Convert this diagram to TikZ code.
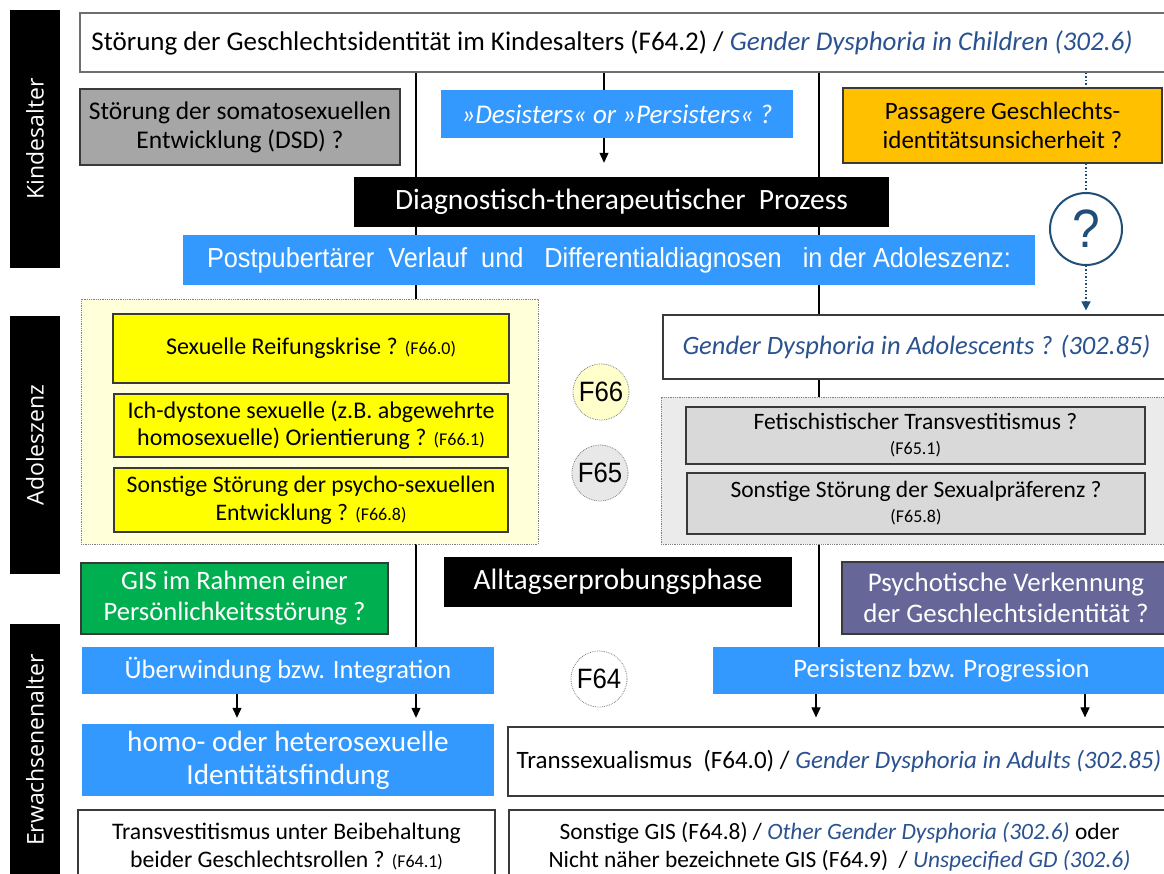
\documentclass[tikz,border=0pt]{standalone}
\usepackage{fontspec}
\usetikzlibrary{arrows.meta}
\setmainfont{Carlito}
\newfontfamily\cf{Carlito}
\newfontfamily\af[FakeStretch=0.92]{Liberation Sans}
\newfontfamily\rf{Open Sans}
\definecolor{bblue}{HTML}{3399FF}
\definecolor{dblue}{HTML}{2A5290}
\definecolor{qblue}{HTML}{1F4E79}
\definecolor{bord}{HTML}{3A3A3A}
\definecolor{dsdgray}{HTML}{A6A6A6}
\definecolor{orangeA}{HTML}{FFC000}
\definecolor{greenA}{HTML}{00B050}
\definecolor{purpleA}{HTML}{666699}
\definecolor{yreg}{HTML}{FFFFD9}
\definecolor{ybox}{HTML}{FFFF00}
\definecolor{greg}{HTML}{EBEBEB}
\definecolor{gbox}{HTML}{D9D9D9}
\definecolor{csixsix}{HTML}{FFFFCC}
\definecolor{csixfive}{HTML}{E8E8E8}
\definecolor{topbord}{HTML}{6E6E6E}
\pgfdeclarelayer{background}
\pgfsetlayers{background,main}
\newcommand\fsz[2]{\fontsize{#1}{#2}\selectfont}
\newcommand\rbox[7]{\node[#1,minimum width={(#5-#3)*1pt},minimum height={(#6-#4)*1pt}] (#2) at ({(#3+#5)/2},{(#4+#6)/2}) {#7};}
\tikzset{
  box/.style={draw=bord,line width=1.2pt,inner sep=0pt,align=center,text=black},
  fbox/.style={inner sep=0pt,align=center,text=white},
  bar/.style={fill=black,inner sep=0pt},
  bartext/.style={rotate=90,text=white,inner sep=0pt,font=\rf\fsz{23}{28}},
  region/.style={draw=gray,densely dotted,line width=0.8pt,inner sep=0pt},
  fcirc/.style={circle,draw=gray,densely dotted,line width=0.8pt,minimum size=56pt,inner sep=0pt,font=\af\fsz{28}{30}},
  conn/.style={line width=1.1pt,black},
  arr/.style={conn,-{Triangle[length=10pt,width=9pt]}},
  dotb/.style={qblue,line width=1.5pt,dotted},
}
\begin{document}
\begin{tikzpicture}[x=1pt,y=-1pt]
\useasboundingbox (0,0) rectangle (1164,874);
\clip (0,0) rectangle (1164,874);
% side bars
\rbox{bar}{kbar}{10}{10}{60}{268}{}
\node[bartext] (ktext) at (kbar.center) {Kindesalter};
\rbox{bar}{abar}{10}{316}{60}{574}{}
\node[bartext] (atext) at (abar.center) {Adoleszenz};
\rbox{bar}{ebar}{10}{624}{60}{880}{}
\node[bartext] (etext) at (35,750) {Erwachsenenalter};
% top
\rbox{draw=topbord,line width=1.2pt,fill=white,inner sep=0pt}{top}{80}{13}{1170}{72}{}
\node[inner sep=0pt,font=\cf\fsz{27}{31}] (toptext) at (612,43) {Störung der Geschlechtsidentität im Kindesalters (F64.2) / \textcolor{dblue}{\itshape Gender Dysphoria in Children (302.6)}};
% Kindesalter row
\rbox{box,fill=dsdgray,font=\cf\fsz{25.5}{29}}{dsd}{80}{89}{400}{165}{Störung der somatosexuellen\\ Entwicklung (DSD) ?}
\rbox{fbox,fill=bblue,font=\cf\itshape\fsz{27}{31}}{desist}{441}{90}{793}{138}{»Desisters« or »Persisters« ?}
\rbox{box,fill=orangeA,font=\cf\fsz{25}{29}}{passag}{843}{88}{1162}{163}{Passagere Geschlechts-\\ identitätsunsicherheit ?}
\rbox{fbox,fill=black,font=\cf\fsz{29.5}{34}}{diag}{354}{177}{889}{227}{Diagnostisch-therapeutischer~~Prozess}
\rbox{fbox,fill=bblue,font=\af\fsz{27.5}{31}}{postp}{183}{235}{1035}{285}{Postpubertärer~~Verlauf~~und~~~Differentialdiagnosen~~~in der Adoleszenz:}
\node[circle,draw=qblue,line width=2pt,minimum size=72pt,inner sep=0pt,fill=white,text=qblue,font=\af\fsz{54}{56}] (qcirc) at (1086,229) {?};
% Adoleszenz: F66 region
\rbox{region,fill=yreg}{yregion}{81}{299}{538}{544}{}
\rbox{box,fill=ybox,font=\cf\fsz{24}{28}}{ya}{113}{314}{509}{383}{Sexuelle Reifungskrise ? {\fsz{18}{28}(F66.0)}}
\rbox{box,fill=ybox,font=\cf\fsz{24}{27}}{yb}{114}{394}{508}{457}{Ich-dystone sexuelle (z.B. abgewehrte\\ homosexuelle) Orientierung ? {\fsz{18}{27}(F66.1)}}
\rbox{box,fill=ybox,font=\cf\fsz{23.7}{28}}{yc}{114}{468}{508}{532}{Sonstige Störung der psycho-sexuellen\\ Entwicklung ? {\fsz{18}{28}(F66.8)}}
\node[fcirc,fill=csixsix] (fsixsix) at (601,392) {F66};
\node[fcirc,fill=csixfive] (fsixfive) at (600,473) {F65};
% right side adolescence
\rbox{box,fill=white,font=\cf\itshape\fsz{26.5}{31},text=dblue}{gda}{663}{315}{1170}{379}{Gender Dysphoria in Adolescents ? (302.85)}
\rbox{region,fill=greg}{gregion}{661}{397}{1170}{544}{}
\rbox{box,fill=gbox,font=\cf\fsz{23.5}{25}}{ga}{686}{407}{1145}{464}{Fetischistischer Transvestitismus ?\\ {\fsz{18}{25}(F65.1)}}
\rbox{box,fill=gbox,font=\cf\fsz{23.5}{25}}{gb}{687}{473}{1145}{534}{Sonstige Störung der Sexualpräferenz ?\\ {\fsz{18}{25}(F65.8)}}
% transition row
\rbox{box,fill=greenA,text=white,font=\cf\fsz{26.6}{31}}{green}{81}{563}{388}{634}{GIS im Rahmen einer\\ Persönlichkeitsstörung ?}
\rbox{fbox,fill=black,font=\cf\fsz{29.5}{34}}{alltag}{444}{557}{792}{607}{Alltagserprobungsphase}
\rbox{box,fill=purpleA,text=white,font=\cf\fsz{26.9}{31}}{psych}{842}{562}{1170}{634}{Psychotische Verkennung\\ der Geschlechtsidentität ?}
% adulthood
\rbox{fbox,fill=bblue,font=\cf\fsz{26.5}{31}}{ueber}{82}{647}{494}{694}{Überwindung bzw. Integration}
\node[fcirc,fill=white] (fsixfour) at (599,679) {F64};
\rbox{fbox,fill=bblue,font=\cf\fsz{26.6}{31}}{persist}{713}{647}{1170}{694}{Persistenz bzw. Progression}
\rbox{fbox,fill=bblue,font=\cf\fsz{29.2}{33}}{homo}{82}{724}{494}{796}{homo- oder heterosexuelle\\ Identitätsfindung}
\rbox{box,fill=white,font=\cf\fsz{25}{31}}{transsex}{508}{727}{1170}{796}{Transsexualismus~~(F64.0) / \textcolor{dblue}{\itshape Gender Dysphoria in Adults (302.85)}}
\rbox{box,fill=white,font=\cf\fsz{23.7}{28}}{transv}{78}{810}{495}{884}{Transvestitismus unter Beibehaltung\\ beider Geschlechtsrollen ? {\fsz{18}{28}(F64.1)}}
\rbox{box,fill=white,font=\cf\fsz{23.4}{28}}{sonst}{509}{810}{1170}{884}{Sonstige GIS (F64.8) / \textcolor{dblue}{\itshape Other Gender Dysphoria (302.6)} oder\\ Nicht näher bezeichnete GIS (F64.9)~~/ \textcolor{dblue}{\itshape Unspecified GD (302.6)}}
% connectors
\coordinate (xa) at (416,0);
\coordinate (xb) at (604,0);
\coordinate (xc) at (819,0);
\coordinate (xd) at (1086,0);
\coordinate (xe) at (237,0);
\coordinate (xf) at (816,0);
\coordinate (xg) at (1085,0);
\begin{pgfonlayer}{background}
\draw[conn] (top.south -| xa) -- (ueber.north -| xa);
\draw[conn] (top.south -| xb) -- (desist.north -| xb);
\draw[conn] (top.south -| xc) -- (persist.north -| xc);
\end{pgfonlayer}
\draw[arr] (desist.south -| xb) -- ([yshift=14pt]diag.north -| xb);
\draw[dotb] (top.south -| xd) -- (passag.north -| xd);
\draw[dotb] (passag.south -| xd) -- (qcirc.north);
\draw[dotb,-{Triangle[length=9pt,width=9pt]}] (qcirc.south) -- ([yshift=4pt]gda.north -| xd);
\draw[arr] (ueber.south -| xe) -- ([yshift=6pt]homo.north -| xe);
\draw[arr] (ueber.south -| xa) -- ([yshift=6pt]homo.north -| xa);
\draw[arr] (persist.south -| xf) -- ([yshift=9pt]transsex.north -| xf);
\draw[arr] (persist.south -| xg) -- ([yshift=9pt]transsex.north -| xg);
\end{tikzpicture}
\end{document}
